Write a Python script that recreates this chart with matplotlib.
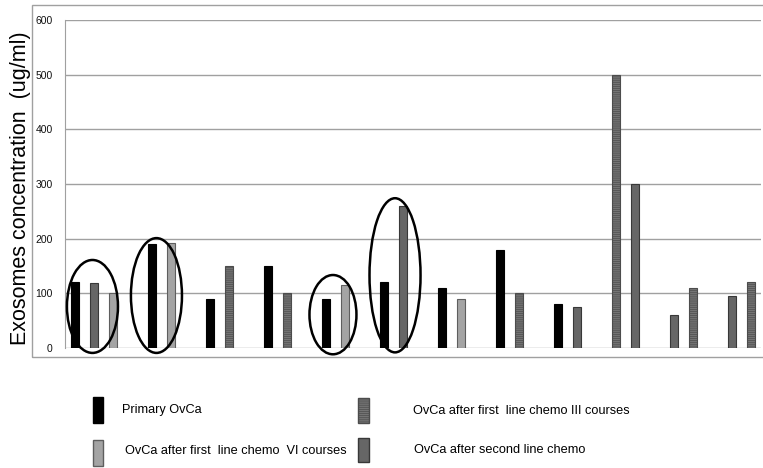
import matplotlib
matplotlib.use('Agg')
import matplotlib.pyplot as plt
from matplotlib.patches import Rectangle, Ellipse

plt.rcParams['font.family'] = ['Liberation Sans', 'DejaVu Sans']
plt.rcParams['hatch.linewidth'] = 0.5

# series in each patient group, left to right
group_series = [['P', 'D', 'L'], ['P', 'L'], ['P', 'S'], ['P', 'S'], ['P', 'L'], ['P', 'D'],
                ['P', 'L'], ['P', 'S'], ['P', 'D'], ['S', 'D'], ['D', 'S'], ['D', 'S']]
group_values = [[120, 118, 100], [190, 192], [90, 150], [150, 100], [90, 115], [120, 260],
                [110, 90], [180, 100], [80, 75], [500, 300], [60, 110], [95, 120]]

series_labels = {
    'P': 'Primary OvCa',
    'S': 'OvCa after first  line chemo III courses',
    'L': 'OvCa after first  line chemo  VI courses',
    'D': 'OvCa after second line chemo',
}
series_style = {
    'P': dict(facecolor='#000000', edgecolor='#000000', hatch=None),
    'S': dict(facecolor='#747474', edgecolor='#4c4c4c', hatch='--------'),
    'L': dict(facecolor='#a4a4a4', edgecolor='#5e5e5e', hatch=None),
    'D': dict(facecolor='#666666', edgecolor='#383838', hatch=None),
}

# circled groups: (x centre, y centre, width, height) in data units
highlights = [(0.92, 76, 2.64, 170), (4.23, 96, 2.64, 210),
              (13.36, 61, 2.43, 145), (16.57, 133, 2.64, 282)]

W, H = 763, 468
fig = plt.figure(figsize=(W / 100, H / 100), dpi=100)
ax = fig.add_axes([65 / W, 1 - 348 / H, 696 / W, 328 / H])

# every group takes 3 slots, bars packed to the right of the block
for g, (ser, vals) in enumerate(zip(group_series, group_values)):
    n = len(ser)
    for j, (s, v) in enumerate(zip(ser, vals)):
        x = 3 * g + 3 - n + j
        st = series_style[s]
        ax.bar(x, v, width=0.42, facecolor=st['facecolor'], edgecolor=st['edgecolor'],
               hatch=st['hatch'], linewidth=0.8, zorder=3)

for cx, cy, ew, eh in highlights:
    ax.add_patch(Ellipse((cx, cy), ew, eh, fill=False, edgecolor='black',
                         linewidth=1.8, clip_on=False, zorder=4))

ax.set_xlim(-0.5, 35.5)
ax.set_ylim(0, 600)
ax.set_yticks(range(0, 601, 100))
ax.set_xticks([])
ax.tick_params(axis='y', length=0, pad=9, labelsize=7.5, labelcolor='#111111')
ax.grid(axis='y', color='#a0a0a0', linewidth=1.0, zorder=0)
for side in ['top', 'right', 'bottom']:
    ax.spines[side].set_visible(False)
ax.spines['left'].set_color('#a0a0a0')

# outer frame
fig.add_artist(Rectangle((32 / W, 1 - 357 / H), 1, 352 / H, transform=fig.transFigure,
                         fill=False, edgecolor='#a0a0a0', linewidth=1.0))

fig.text(21 / W, 1 - 188 / H, 'Exosomes concentration  (ug/ml)', rotation=90,
         ha='center', va='center', fontsize=15.5)

# legend
legend_pos = {'P': (93, 397, 10, 26, 122, 410), 'S': (358, 398, 11, 25, 413, 411),
              'L': (93, 440, 10, 26, 125, 451), 'D': (358, 438, 11, 24, 414, 450)}
for s, (bx, by, bw, bh, tx, ty) in legend_pos.items():
    st = series_style[s]
    fig.add_artist(Rectangle((bx / W, 1 - (by + bh) / H), bw / W, bh / H,
                             transform=fig.transFigure, facecolor=st['facecolor'],
                             edgecolor=st['edgecolor'], hatch=st['hatch'], linewidth=1.0))
    fig.text(tx / W, 1 - ty / H, series_labels[s], ha='left', va='center', fontsize=9.2)

fig.savefig('out.png', dpi=100)
